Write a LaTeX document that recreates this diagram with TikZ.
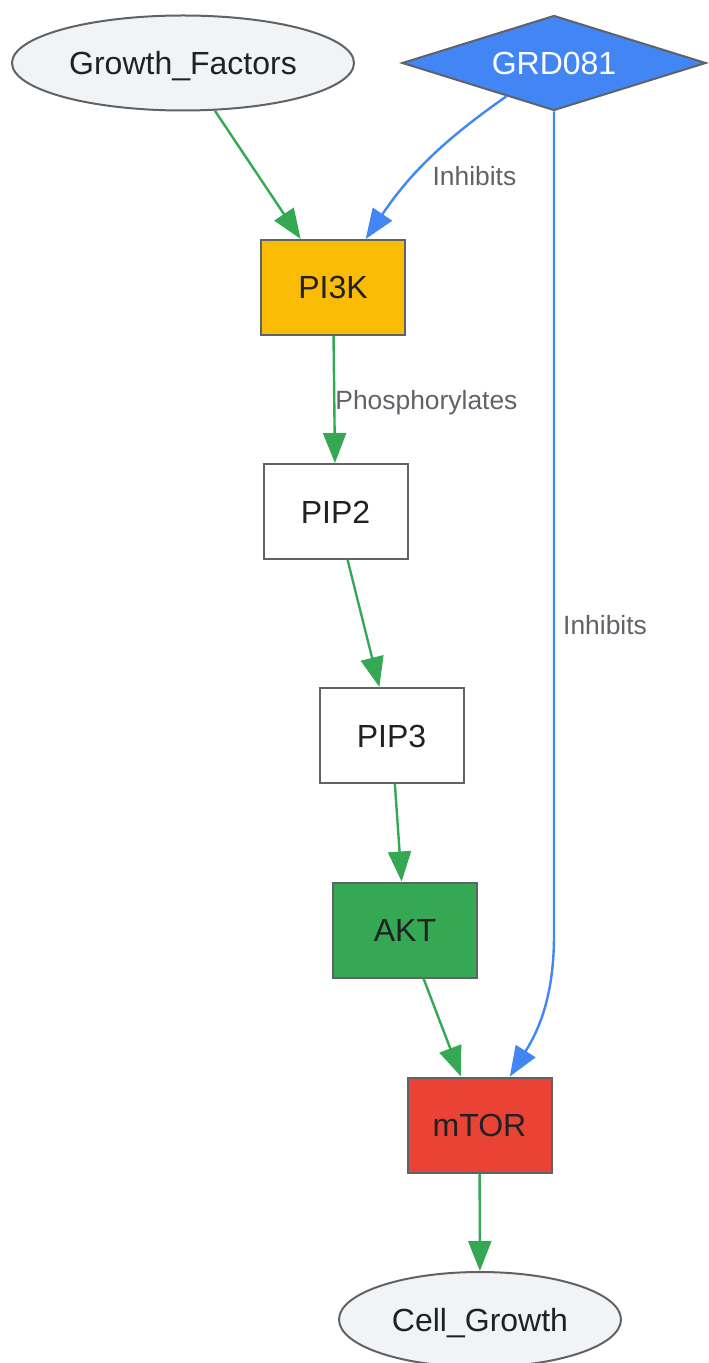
\documentclass[tikz,border=0pt]{standalone}
\usepackage{fontspec}
\setmainfont{Liberation Sans}
\usepackage{tikz}
\usetikzlibrary{positioning, arrows.meta, calc, shapes.geometric}

\definecolor{gGreen}{HTML}{34A853}
\definecolor{gBlue}{HTML}{4285F4}
\definecolor{gYellow}{HTML}{FBBC05}
\definecolor{gRed}{HTML}{EA4335}
\definecolor{gGrey}{HTML}{5F6368}
\definecolor{gLight}{HTML}{F1F3F4}
\definecolor{gText}{HTML}{202124}

\begin{document}
\begin{tikzpicture}[
    x=0.5pt, y=-0.5pt,
    box/.style={draw=gGrey, line width=1pt, rectangle, minimum width=72pt, minimum height=47.5pt,
        inner sep=0pt, text=gText, text height=11.5pt, text depth=0pt, font=\fontsize{16}{19}\selectfont},
    oval/.style={draw=gGrey, line width=1pt, ellipse, fill=gLight, minimum height=47.5pt,
        inner sep=0pt, text=gText, text height=11.5pt, text depth=0pt, font=\fontsize{16}{19}\selectfont},
    drug/.style={draw=gGrey, line width=1pt, diamond, aspect=3.2, fill=gBlue, minimum width=152pt,
        minimum height=47.5pt, inner sep=0pt, text=white, text height=11.5pt, text depth=0pt,
        font=\fontsize{16}{19}\selectfont},
    act/.style={gGreen, line width=1.2pt, -{Triangle[length=15pt, width=11.5pt]}},
    inhib/.style={gBlue, line width=1.2pt, -{Triangle[length=15pt, width=11.5pt]}},
    lbl/.style={text=gGrey, inner sep=0pt, text height=9.5pt, text depth=0pt,
        font=\fontsize{13.2}{16}\selectfont}
]
\useasboundingbox (0,0) rectangle (708,1363);

% 节点
\node[oval, minimum width=171pt] (GF) at (183,63) {Growth\_Factors};
\node[drug] (GRD) at (554,63) {GRD081};
\node[box, fill=gYellow] (PI3K) at (333,287.5) {PI3K};
\node[box, fill=white] (PIP2) at (335.5,511.5) {PIP2};
\node[box, fill=white] (PIP3) at (391.5,735.5) {PIP3};
\node[box, fill=gGreen] (AKT) at (405,930) {AKT};
\node[box, fill=gRed] (mTOR) at (479.5,1125) {mTOR};
\node[oval, minimum width=141pt] (CG) at (480,1319.5) {Cell\_Growth};
\coordinate (bend) at (554,935);

% 激活
\draw[act] (GF) -- (PI3K);
\draw[act] (PI3K) -- (PIP2) node[lbl, midway, anchor=west] {Phosphorylates};
\draw[act] (PIP2) -- (PIP3);
\draw[act] (PIP3) -- (AKT);
\draw[act] (AKT) -- (mTOR);
\draw[act] (mTOR) -- (CG);

% 抑制
\draw[inhib] (GRD) to[out=215, in=56] node[lbl, pos=0.5, anchor=west, xshift=1.5pt, yshift=-8pt] {Inhibits} (PI3K);
\draw[inhib] (GRD.south) -- node[lbl, pos=0.623, anchor=west, xshift=4pt] {Inhibits} (bend)
    to[out=-90, in=58] (mTOR);

\end{tikzpicture}
\end{document}
